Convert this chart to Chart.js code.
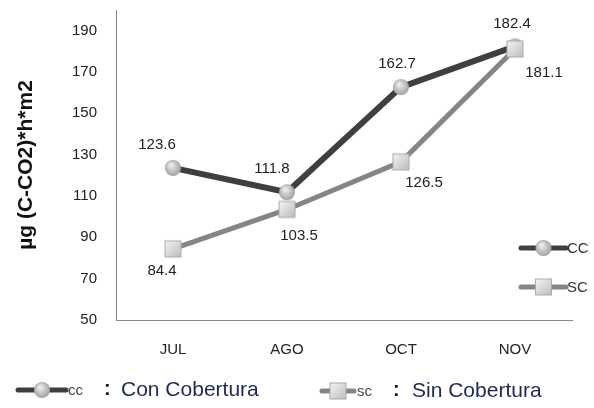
<!DOCTYPE html>
<html>
<head>
<meta charset="utf-8">
<script src="https://cdn.jsdelivr.net/npm/chart.js@4.4.1/dist/chart.umd.min.js"></script>
<style>
  html, body { margin: 0; padding: 0; background: #fff; }
  #wrap { width: 594px; height: 408px; position: relative; }
</style>
</head>
<body>
<div id="wrap"><canvas id="chart" width="594" height="408"></canvas></div>
<script>
// chart data
const months = ['JUL', 'AGO', 'OCT', 'NOV'];
const ccValues = [123.6, 111.8, 162.7, 182.4];
const scValues = [84.4, 103.5, 126.5, 181.1];
const yTicks = [50, 70, 90, 110, 130, 150, 170, 190];

const CC_LINE = '#3f3f3f';
const SC_LINE = '#858585';

// value labels: CC above, SC below (last one offset to the right)
const labelPlugin = {
    id: 'valueLabels',
    afterDatasetsDraw(chart) {
        const ctx = chart.ctx;
        ctx.save();
        ctx.font = '15px "Liberation Sans", Arial, sans-serif';
        ctx.fillStyle = '#222';
        ctx.textAlign = 'center';
        ctx.textBaseline = 'middle';
        const cc = chart.getDatasetMeta(1).data;
        const sc = chart.getDatasetMeta(0).data;
        cc.forEach((p, i) => {
            const dx = [-16, -15, -4, -3][i];
            ctx.fillText(ccValues[i].toFixed(1), p.x + dx, p.y - 23);
        });
        sc.forEach((p, i) => {
            const dx = [-11, 12, 23, 29][i];
            const dy = [22, 26, 21, 24][i];
            ctx.fillText(scValues[i].toFixed(1), p.x + dx, p.y + dy);
        });
        ctx.restore();
    }
};

function drawMarker(ctx, kind, x, y) {
    if (kind === 'circle') {
        const g = ctx.createRadialGradient(x - 2, y - 3, 1, x, y, 9);
        g.addColorStop(0, '#ececec');
        g.addColorStop(1, '#9a9a9a');
        ctx.fillStyle = g;
        ctx.beginPath();
        ctx.arc(x, y, 8, 0, Math.PI * 2);
        ctx.fill();
    } else {
        const g = ctx.createLinearGradient(x - 8, y - 8, x + 8, y + 8);
        g.addColorStop(0, '#f4f4f4');
        g.addColorStop(1, '#bdbdbd');
        ctx.fillStyle = g;
        ctx.fillRect(x - 8, y - 8, 16, 16);
        ctx.strokeStyle = '#aaa';
        ctx.lineWidth = 1;
        ctx.strokeRect(x - 8, y - 8, 16, 16);
    }
}

function legendIcon(ctx, kind, color, x1, x2, y, w) {
    ctx.strokeStyle = color;
    ctx.lineWidth = w;
    ctx.lineCap = 'round';
    ctx.beginPath();
    ctx.moveTo(x1, y);
    ctx.lineTo(x2, y);
    ctx.stroke();
    drawMarker(ctx, kind, (x1 + x2) / 2, y);
}

// inner legend (clipped at right) and bottom legend
const legendPlugin = {
    id: 'customLegend',
    afterDraw(chart) {
        const ctx = chart.ctx;
        ctx.save();
        ctx.textBaseline = 'middle';
        ctx.textAlign = 'left';

        legendIcon(ctx, 'circle', CC_LINE, 521, 566, 248, 5);
        legendIcon(ctx, 'rect', SC_LINE, 521, 566, 287, 5);
        ctx.fillStyle = '#333';
        ctx.font = '15px "Liberation Sans", Arial, sans-serif';
        ctx.fillText('CC', 567, 249);
        ctx.fillText('SC', 567, 288);

        legendIcon(ctx, 'circle', CC_LINE, 18, 66, 390, 5);
        ctx.fillStyle = '#444';
        ctx.font = '15px "Liberation Sans", Arial, sans-serif';
        ctx.fillText('cc', 68, 391);
        ctx.fillStyle = '#1a1a1a';
        ctx.font = 'bold 20px "Liberation Sans", Arial, sans-serif';
        ctx.fillText(':', 104, 389);
        ctx.fillStyle = '#1c2a5a';
        ctx.font = '21px "Liberation Sans", Arial, sans-serif';
        ctx.fillText('Con Cobertura', 121, 390);

        legendIcon(ctx, 'rect', SC_LINE, 322, 354, 391, 5);
        ctx.fillStyle = '#444';
        ctx.font = '15px "Liberation Sans", Arial, sans-serif';
        ctx.fillText('sc', 357, 392);
        ctx.fillStyle = '#1a1a1a';
        ctx.font = 'bold 20px "Liberation Sans", Arial, sans-serif';
        ctx.fillText(':', 393, 390);
        ctx.fillStyle = '#1c2a5a';
        ctx.font = '21px "Liberation Sans", Arial, sans-serif';
        ctx.fillText('Sin Cobertura', 412, 391);
        ctx.restore();
    }
};

function markerImg(kind) {
    const c = document.createElement('canvas');
    c.width = 20; c.height = 20;
    drawMarker(c.getContext('2d'), kind, 10, 10);
    return c;
}

new Chart(document.getElementById('chart'), {
    type: 'line',
    data: {
        labels: months,
        datasets: [{
            label: 'SC',
            data: scValues,
            borderColor: SC_LINE,
            borderWidth: 5,
            pointStyle: markerImg('rect'),
            tension: 0
        }, {
            label: 'CC',
            data: ccValues,
            borderColor: CC_LINE,
            borderWidth: 6,
            pointStyle: markerImg('circle'),
            tension: 0
        }]
    },
    options: {
        responsive: false,
        animation: false,
        layout: { padding: { top: 8, right: 22, left: 0, bottom: 0 } },
        plugins: {
            legend: { display: false },
            tooltip: { enabled: false }
        },
        scales: {
            x: {
                offset: true,
                grid: { display: false, drawTicks: false },
                border: { color: '#888', width: 1 },
                ticks: {
                    color: '#222',
                    font: { family: '"Liberation Sans", Arial, sans-serif', size: 15 },
                    padding: 21
                },
                afterFit(scale) { scale.height = 88; }
            },
            y: {
                min: 50,
                max: 200,
                grid: { display: false, drawTicks: false },
                border: { color: '#888', width: 1 },
                afterBuildTicks(scale) {
                    scale.ticks = yTicks.map(v => ({ value: v }));
                },
                ticks: {
                    color: '#222',
                    font: { family: '"Liberation Sans", Arial, sans-serif', size: 15 },
                    padding: 19
                },
                title: {
                    display: true,
                    text: 'µg (C-CO2)*h*m2',
                    color: '#111',
                    font: { family: '"Liberation Sans", Arial, sans-serif', size: 21, weight: 'bold' },
                    padding: { top: 14, bottom: 0 }
                },
                afterFit(scale) {
                    scale.width = 116;
                    scale.paddingTop = 0;
                    scale.paddingBottom = 0;
                }
            }
        }
    },
    plugins: [labelPlugin, legendPlugin]
});
</script>
</body>
</html>
